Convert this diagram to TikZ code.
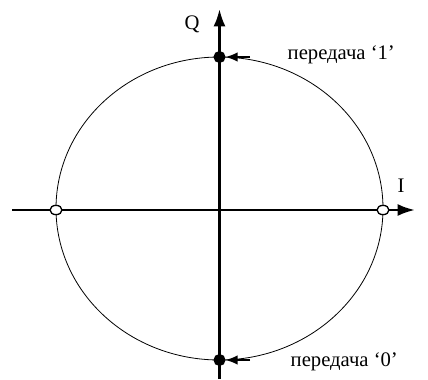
\documentclass[tikz,border=0pt]{standalone}
\usepackage{fontspec}
\setmainfont{Liberation Serif}
\usetikzlibrary{arrows.meta,shapes.geometric}

\begin{document}
\begin{tikzpicture}[x=0.75pt,y=-0.75pt,
  axis/.style={line width=2pt,-{Latex[length=13pt,width=9pt]}},
  ptr/.style={line width=1pt,-{Latex[length=9pt,width=7pt]}},
  opendot/.style={ellipse,draw,fill=white,line width=1pt,inner sep=0pt,minimum width=9pt,minimum height=7pt},
  fulldot/.style={circle,draw,fill=black,line width=1pt,inner sep=0pt,minimum size=8pt},
  lab/.style={font=\fontsize{15.5}{18}\selectfont}]
\useasboundingbox (0,0) rectangle (428,379);
% constellation circle
\draw[line width=0.6pt] (219.5,208.5) ellipse [x radius=163.5, y radius=151.5];
% axes
\coordinate (xl) at (12,210);
\coordinate (xr) at (415,210);
\coordinate (yb) at (219.5,379);
\coordinate (yt) at (219.5,9);
\draw[axis] (xl) -- (xr);
\draw[axis] (yb) -- (yt);
\node[lab] (qlab) at (192,24) {Q};
\node[lab] (ilab) at (401,186) {I};
% signal points
\node[opendot] (p0l) at (56,210) {};
\node[opendot] (p0r) at (383,210) {};
\node[fulldot] (p1) at (219.5,57) {};
\node[fulldot] (p0) at (219.5,360) {};
% labels
\node[lab,anchor=west] (t1) at (283,55) {передача ‘1’};
\node[lab,anchor=west] (t0) at (286,362) {передача ‘0’};
\coordinate (a1) at (250,57);
\coordinate (a0) at (250,360);
\draw[ptr] (a1) -- (p1);
\draw[ptr] (a0) -- (p0);
\end{tikzpicture}
\end{document}
